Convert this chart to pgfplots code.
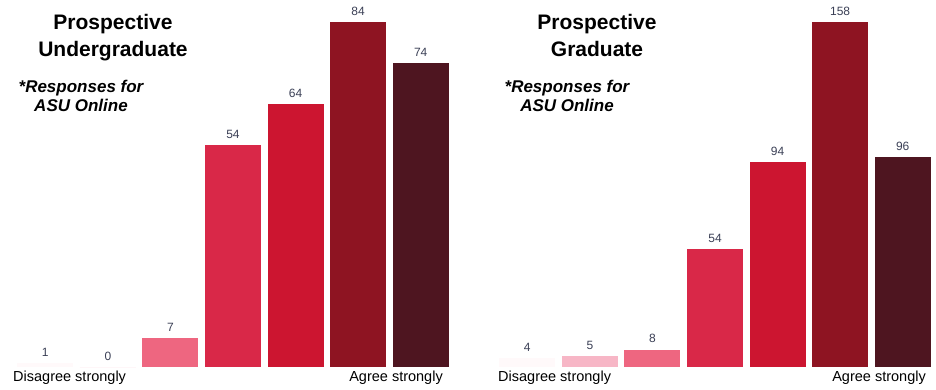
\documentclass[border=0pt]{standalone}
\usepackage{pgfplots}
\pgfplotsset{compat=1.18}
\usepackage{fontspec}
\setmainfont{Liberation Sans}
\definecolor{cA}{HTML}{FFF9FA}
\definecolor{cB}{HTML}{F7B6C6}
\definecolor{cC}{HTML}{EE6680}
\definecolor{cD}{HTML}{D92848}
\definecolor{cE}{HTML}{CC1530}
\definecolor{cF}{HTML}{8E1422}
\definecolor{cG}{HTML}{4E1520}
\definecolor{lab}{HTML}{3A3F55}
\pgfplotsset{
  panel/.style={
    scale only axis, width=438pt, height=367pt,
    xmin=-0.5, xmax=6.5, ymin=0,
    hide axis, clip=false, anchor=south west,
    ybar, bar width=56pt, bar shift=0pt,
    nodes near coords,
    /pgf/number format/assume math mode=true,
    every node near coord/.append style={font=\fontsize{12}{14}\selectfont, text=lab, yshift=3pt},
  },
  every axis plot/.append style={draw=none},
}
\begin{document}
\begin{tikzpicture}
\useasboundingbox (0pt,0pt) rectangle (936pt,389pt);
% left panel
\begin{axis}[panel, at={(14pt,22pt)}, ymax=89.36]
\addplot[fill=cA] coordinates {(0,1)};
\addplot[fill=cB] coordinates {(1,0)};
\addplot[fill=cC] coordinates {(2,7)};
\addplot[fill=cD] coordinates {(3,54)};
\addplot[fill=cE] coordinates {(4,64)};
\addplot[fill=cF] coordinates {(5,84)};
\addplot[fill=cG] coordinates {(6,74)};
\end{axis}
% right panel
\begin{axis}[panel, at={(496pt,22pt)}, ymax=168.1]
\addplot[fill=cA] coordinates {(0,4)};
\addplot[fill=cB] coordinates {(1,5)};
\addplot[fill=cC] coordinates {(2,8)};
\addplot[fill=cD] coordinates {(3,54)};
\addplot[fill=cE] coordinates {(4,94)};
\addplot[fill=cF] coordinates {(5,158)};
\addplot[fill=cG] coordinates {(6,96)};
\end{axis}
% titles
\begin{scope}[every node/.style={inner sep=0pt, anchor=base}]
\node[font=\fontsize{21}{25}\selectfont\bfseries] at (113pt,359pt) {Prospective};
\node[font=\fontsize{21}{25}\selectfont\bfseries] at (113pt,332pt) {Undergraduate};
\node[font=\fontsize{17}{20}\selectfont\bfseries\itshape] at (81pt,297pt) {*Responses for};
\node[font=\fontsize{17}{20}\selectfont\bfseries\itshape] at (81pt,277pt) {ASU Online};
\node[font=\fontsize{21}{25}\selectfont\bfseries] at (597pt,359pt) {Prospective};
\node[font=\fontsize{21}{25}\selectfont\bfseries] at (597pt,332pt) {Graduate};
\node[font=\fontsize{17}{20}\selectfont\bfseries\itshape] at (567pt,297pt) {*Responses for};
\node[font=\fontsize{17}{20}\selectfont\bfseries\itshape] at (567pt,277pt) {ASU Online};
\node[font=\fontsize{14.5}{17}\selectfont, anchor=base west] at (13pt,8pt) {Disagree strongly};
\node[font=\fontsize{14.5}{17}\selectfont, anchor=base east] at (443pt,8pt) {Agree strongly};
\node[font=\fontsize{14.5}{17}\selectfont, anchor=base west] at (498pt,8pt) {Disagree strongly};
\node[font=\fontsize{14.5}{17}\selectfont, anchor=base east] at (926pt,8pt) {Agree strongly};
\end{scope}
\end{tikzpicture}
\end{document}
